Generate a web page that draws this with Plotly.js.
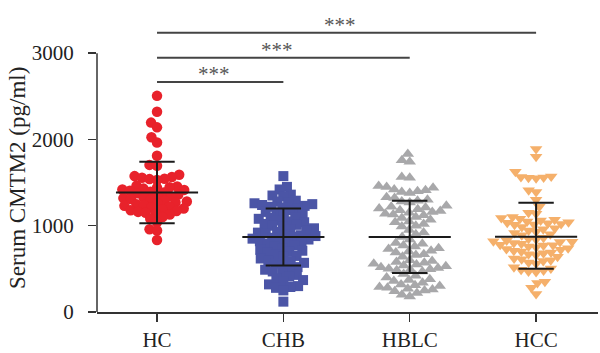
<!DOCTYPE html>
<html>
<head>
<meta charset="utf-8">
<script src="https://cdn.plot.ly/plotly-3.0.1.min.js"></script>
<style>html,body{margin:0;padding:0;background:#fff;}#chart{width:600px;height:353px;}</style>
</head>
<body>
<div id="chart"></div>
<script>
// ---- data ----
const categories = ['HC', 'CHB', 'HBLC', 'HCC'];

const hcValues = [2505, 2320, 2195, 2140, 2025, 1965, 1810, 1705, 1695,
  1590, 1575, 1565, 1555, 1545, 1540, 1530,
  1465, 1455, 1445, 1440, 1430, 1420, 1415, 1405, 1395, 1385, 1375, 1360, 1350, 1340,
  1330, 1320, 1310, 1300, 1290, 1280, 1270, 1260, 1250, 1240, 1230, 1220, 1210, 1200,
  1190, 1180, 1170, 1160, 1150, 1140, 1130, 1100, 1080, 1040,
  960, 945, 835];

const chbValues = [1575, 1450, 1420, 1360, 1350, 1340,
  1290, 1280, 1270, 1260, 1250, 1240, 1230, 1220, 1210, 1200,
  1180, 1160, 1150, 1130, 1120, 1100,
  1090, 1080, 1060, 1050, 1040, 1020, 1010, 1000,
  990, 970, 960, 950, 930, 920, 910, 900,
  890, 880, 870, 860, 850, 840, 830, 820, 810, 800,
  790, 770, 760, 740, 720, 710, 700,
  690, 670, 650, 640, 620, 600,
  590, 570, 560, 540, 520, 500,
  490, 470, 450, 430, 410,
  390, 370, 350, 320, 300,
  290, 280, 250, 120];

const hblcValues = [1830, 1760, 1740, 1565, 1555,
  1460, 1450, 1440, 1420, 1410, 1400, 1390, 1380,
  1330, 1320, 1300, 1290, 1280, 1270,
  1230, 1220, 1210, 1200, 1190, 1180, 1170, 1160, 1150, 1140, 1130, 1120, 1100, 1090, 1070, 1050, 1040, 1020, 1000, 990,
  950, 920, 900, 870, 840,
  800, 790, 770, 760, 740, 730, 710, 700, 690, 670, 660, 640,
  600, 590, 580, 570, 560, 550, 540, 530, 520, 510, 500, 495, 490, 485,
  470, 440, 420, 400, 380, 370,
  360, 340, 320, 310, 300, 290, 280, 270, 260, 250, 240, 220, 200, 180];

const hccValues = [1890, 1800, 1625, 1570, 1565, 1560, 1555, 1550,
  1410, 1390, 1300, 1220, 1150, 1140,
  1100, 1090, 1080, 1070, 1060, 1050, 1040, 1035, 1030, 1020, 1015, 1010,
  985, 970, 960, 945, 930, 915, 900, 890,
  860, 850, 840, 830, 820, 815, 810, 800, 790, 780, 775, 770, 760, 750, 740, 730, 720, 710, 700, 690, 680, 670, 660,
  640, 620, 610, 600, 590, 575, 560,
  520, 505, 490, 480, 470, 465,
  350, 335, 280, 210];

const meanValues = [1385, 870, 870, 872];
const sdPlus = [355, 330, 418, 395];
const sdMinus = [355, 330, 418, 370];

const sigEnd = [1, 2, 3];          // comparisons HC vs. CHB / HBLC / HCC
const sigLevel = [2665, 2947, 3237];
const sigLabel = ['***', '***', '***'];

const yTicks = [0, 1000, 2000, 3000];
const yTitle = 'Serum CMTM2 (pg/ml)';

// ---- styling ----
const groups = [hcValues, chbValues, hblcValues, hccValues];
const colors = ['#e8222b', '#4b55a6', '#a8a8aa', '#f5b06b'];
const symbols = ['circle', 'square', 'triangle-up', 'triangle-down'];
const sizes = [10.5, 10, 11, 11];
const spacing = [7.6, 7.8, 8.0, 7.6];

const W = 600, H = 353;
const margin = {l: 97, r: 2, t: 10, b: 41};
const xRange = [-0.475, 3.49];
const yRange = [0, 3500];
const plotW = W - margin.l - margin.r;
const plotH = H - margin.t - margin.b;
const kx = plotW / (xRange[1] - xRange[0]);
const ky = plotH / (yRange[1] - yRange[0]);

// beeswarm placement (pixel space), sorted ascending
function swarm(vals, d) {
  const pts = vals.map((v, i) => ({v, i, y: v * ky})).sort((a, b) => a.y - b.y);
  const placed = [];
  const out = new Array(vals.length);
  for (const p of pts) {
    const near = placed.filter(q => Math.abs(q.y - p.y) < d);
    const cand = [0];
    for (const q of near) {
      const dx = Math.sqrt(d * d - (q.y - p.y) ** 2);
      cand.push(q.x + dx, q.x - dx);
    }
    cand.sort((a, b) => Math.abs(a) - Math.abs(b) || a - b);
    let chosen = 0;
    for (const c of cand) {
      let ok = true;
      for (const q of near) {
        const dd = (q.x - c) ** 2 + (q.y - p.y) ** 2;
        if (dd < d * d - 1e-6) { ok = false; break; }
      }
      if (ok) { chosen = c; break; }
    }
    placed.push({x: chosen, y: p.y});
    out[p.i] = chosen / kx;
  }
  return out;
}

const traces = groups.map((vals, g) => {
  const off = swarm(vals, spacing[g]);
  return {
    type: 'scatter', mode: 'markers',
    x: off.map(o => g + o), y: vals,
    marker: {symbol: symbols[g], size: sizes[g], color: colors[g], line: {width: 0}},
    hoverinfo: 'y', showlegend: false, cliponaxis: false
  };
});

const shapes = [];
const black = '#1a1a1a';
categories.forEach((c, g) => {
  const m = meanValues[g];
  shapes.push({type: 'line', x0: g - 0.325, x1: g + 0.325, y0: m, y1: m, line: {color: black, width: 2}});
  shapes.push({type: 'line', x0: g, x1: g, y0: m - sdMinus[g], y1: m + sdPlus[g], line: {color: black, width: 2}});
  shapes.push({type: 'line', x0: g - 0.14, x1: g + 0.14, y0: m + sdPlus[g], y1: m + sdPlus[g], line: {color: black, width: 2}});
  shapes.push({type: 'line', x0: g - 0.14, x1: g + 0.14, y0: m - sdMinus[g], y1: m - sdMinus[g], line: {color: black, width: 2}});
});
// y axis line only up to the last tick
shapes.push({type: 'line', xref: 'paper', x0: 0, x1: 0, yref: 'y', y0: 0, y1: yTicks[yTicks.length - 1],
  line: {color: '#333', width: 1.5}});

const annotations = [];
sigEnd.forEach((e, k) => {
  shapes.push({type: 'line', x0: 0, x1: e, y0: sigLevel[k], y1: sigLevel[k], line: {color: '#444', width: 2}});
  annotations.push({x: e / 2 - 0.05, y: sigLevel[k], xref: 'x', yref: 'y', text: sigLabel[k], showarrow: false,
    yanchor: 'bottom', yshift: -6, font: {family: 'Liberation Serif', size: 21, color: '#555'}});
});
annotations.push({xref: 'paper', yref: 'paper', x: (17 - margin.l) / plotW, y: (H - margin.b - 178) / plotH,
  xanchor: 'center', yanchor: 'middle', text: yTitle, textangle: -90, showarrow: false,
  font: {family: 'Liberation Serif', size: 23, color: '#222'}});

const tickFont = {family: 'Liberation Serif', size: 21, color: '#222'};
const layout = {
  width: W, height: H, margin: margin,
  paper_bgcolor: '#fff', plot_bgcolor: '#fff',
  showlegend: false,
  xaxis: {range: xRange, tickvals: [0, 1, 2, 3], ticktext: categories, showline: true, linecolor: '#333', linewidth: 1.5,
    ticks: 'outside', ticklen: 8, tickwidth: 1.5, tickcolor: '#333', showgrid: false, zeroline: false, tickfont: tickFont},
  yaxis: {range: yRange, tickvals: yTicks, ticktext: yTicks.map(String), showline: false, ticklabelstandoff: 10,
    ticks: 'outside', ticklen: 8, tickwidth: 1.5, tickcolor: '#333', showgrid: false, zeroline: false, tickfont: tickFont},
  shapes: shapes, annotations: annotations
};

Plotly.newPlot('chart', traces, layout, {staticPlot: true, displayModeBar: false});
</script>
</body>
</html>
